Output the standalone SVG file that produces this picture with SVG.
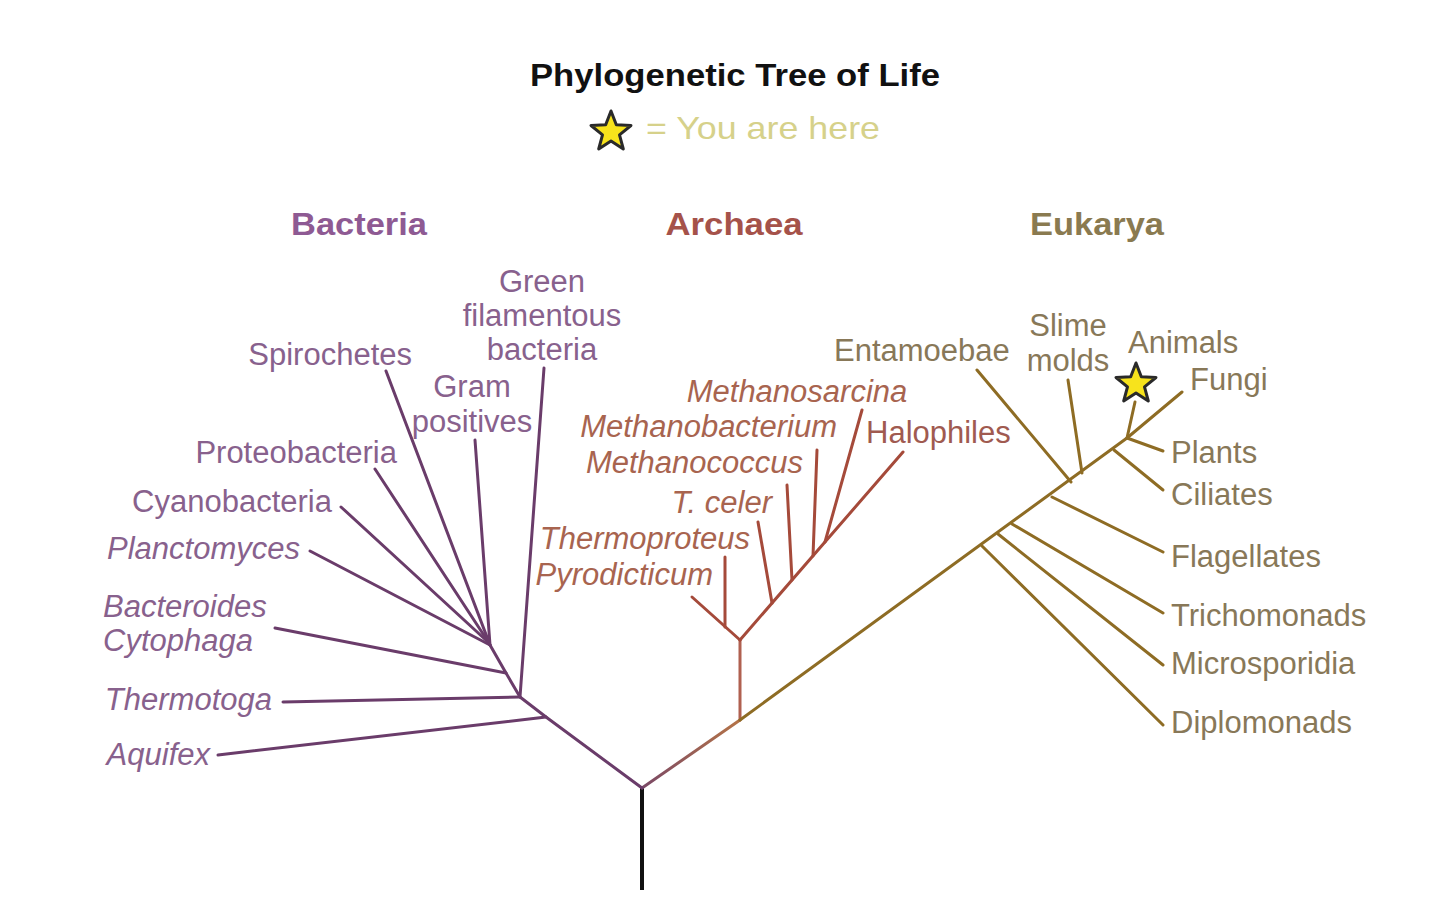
<svg xmlns="http://www.w3.org/2000/svg" width="1440" height="904" viewBox="0 0 1440 904">
  <defs>
    <path id="star" d="M0,-21 L5.3,-7.2 L20,-6.5 L8.5,2.8 L12.3,17 L0,9 L-12.3,17 L-8.5,2.8 L-20,-6.5 L-5.3,-7.2 Z"/>
    <linearGradient id="rootRight" gradientUnits="userSpaceOnUse" x1="642" y1="788" x2="740" y2="720">
      <stop offset="0" stop-color="#7a4866"/>
      <stop offset="1" stop-color="#b57447"/>
    </linearGradient>
    <style>
      text { font-family: "Liberation Sans", Arial, sans-serif; }
      .title { font-size: 32px; font-weight: bold; fill: #111; }
      .legend { font-size: 32px; fill: #d6d18a; }
      .head { font-size: 32px; font-weight: bold; }
      .lab { font-size: 31px; }
      .it { font-style: italic; }
      .bac { fill: #88618d; }
      .arc { fill: #a8644f; }
      .euk { fill: #887858; }
      .star { fill: #f7e31c; stroke: #2a2a2a; stroke-width: 3; stroke-linejoin: round; }
      .lb { stroke: #6a3c6a; stroke-width: 3; fill: none; stroke-linecap: round; stroke-linejoin: round; }
      .la { stroke: #a54a3a; stroke-width: 3; fill: none; stroke-linecap: round; stroke-linejoin: round; }
      .le { stroke: #8e6c24; stroke-width: 3; fill: none; stroke-linecap: round; stroke-linejoin: round; }
    </style>
  </defs>
  <rect width="1440" height="904" fill="#ffffff"/>

  <g id="title">
    <text class="title" x="735" y="86" text-anchor="middle" textLength="410" lengthAdjust="spacingAndGlyphs">Phylogenetic Tree of Life</text>
  </g>
  <g id="legend">
    <use href="#star" class="star" transform="translate(611,132)"/>
    <text class="legend" x="646" y="139" textLength="234" lengthAdjust="spacingAndGlyphs">= You are here</text>
  </g>

  <g id="headings">
    <text class="head bac" x="359" y="235" text-anchor="middle" textLength="136" lengthAdjust="spacingAndGlyphs" style="fill:#8e5a93">Bacteria</text>
    <text class="head arc" x="734" y="235" text-anchor="middle" textLength="137" lengthAdjust="spacingAndGlyphs" style="fill:#a5524a">Archaea</text>
    <text class="head euk" x="1097" y="235" text-anchor="middle" textLength="134" lengthAdjust="spacingAndGlyphs" style="fill:#8a7a50">Eukarya</text>
  </g>

  <g id="connectors">
    <line x1="642" y1="788" x2="642" y2="890" stroke="#111" stroke-width="4"/>
    <line x1="642" y1="788" x2="740" y2="720" stroke="url(#rootRight)" stroke-width="3" stroke-linecap="round"/>
    <!-- Bacteria -->
    <polyline class="lb" points="642,788 546,717 520,697 506,673 490,645"/>
    <line class="lb" x1="218" y1="755" x2="546" y2="717"/>
    <line class="lb" x1="283" y1="702" x2="520" y2="697"/>
    <line class="lb" x1="275" y1="628" x2="506" y2="673"/>
    <line class="lb" x1="310" y1="551" x2="490" y2="645"/>
    <line class="lb" x1="341" y1="507" x2="488" y2="642"/>
    <line class="lb" x1="375" y1="469" x2="489" y2="643"/>
    <line class="lb" x1="386" y1="371" x2="490" y2="645"/>
    <line class="lb" x1="475" y1="440" x2="490" y2="645"/>
    <line class="lb" x1="544" y1="368" x2="520" y2="697"/>
    <!-- Archaea -->
    <line class="la" x1="740" y1="720" x2="740" y2="640" style="stroke:#b06050"/>
    <line class="la" x1="740" y1="640" x2="692" y2="597"/>
    <line class="la" x1="725" y1="627" x2="725" y2="557"/>
    <line class="la" x1="740" y1="640" x2="903" y2="452"/>
    <line class="la" x1="772" y1="603" x2="758" y2="522"/>
    <line class="la" x1="792" y1="580" x2="787" y2="485"/>
    <line class="la" x1="813" y1="556" x2="817" y2="450"/>
    <line class="la" x1="825" y1="542" x2="862" y2="410"/>
    <!-- Eukarya -->
    <polyline class="le" points="740,720 1127,438 1182,392"/>
    <line class="le" x1="982" y1="546" x2="1163" y2="725"/>
    <line class="le" x1="998" y1="534" x2="1163" y2="665"/>
    <line class="le" x1="1012" y1="524" x2="1163" y2="613"/>
    <line class="le" x1="1052" y1="497" x2="1163" y2="552"/>
    <line class="le" x1="977" y1="370" x2="1071" y2="482"/>
    <line class="le" x1="1068" y1="380" x2="1082" y2="473"/>
    <line class="le" x1="1114" y1="450" x2="1163" y2="490"/>
    <line class="le" x1="1127" y1="438" x2="1163" y2="451"/>
    <line class="le" x1="1127" y1="438" x2="1135" y2="402"/>
  </g>

  <g id="bacteria">
    <text class="lab bac" x="542" y="292" text-anchor="middle">Green</text>
    <text class="lab bac" x="542" y="326" text-anchor="middle">filamentous</text>
    <text class="lab bac" x="542" y="360" text-anchor="middle">bacteria</text>
    <text class="lab bac" x="412" y="365" text-anchor="end">Spirochetes</text>
    <text class="lab bac" x="472" y="397" text-anchor="middle">Gram</text>
    <text class="lab bac" x="472" y="432" text-anchor="middle">positives</text>
    <text class="lab bac" x="397" y="463" text-anchor="end">Proteobacteria</text>
    <text class="lab bac" x="332" y="512" text-anchor="end">Cyanobacteria</text>
    <text class="lab bac it" x="300" y="559" text-anchor="end">Planctomyces</text>
    <text class="lab bac it" x="103" y="617">Bacteroides</text>
    <text class="lab bac it" x="103" y="651">Cytophaga</text>
    <text class="lab bac it" x="272" y="710" text-anchor="end">Thermotoga</text>
    <text class="lab bac it" x="210" y="765" text-anchor="end">Aquifex</text>
  </g>

  <g id="archaea">
    <text class="lab arc it" x="797" y="402" text-anchor="middle">Methanosarcina</text>
    <text class="lab arc it" x="837" y="437" text-anchor="end">Methanobacterium</text>
    <text class="lab arc it" x="803" y="473" text-anchor="end">Methanococcus</text>
    <text class="lab arc it" x="772" y="513" text-anchor="end">T. celer</text>
    <text class="lab arc it" x="750" y="549" text-anchor="end">Thermoproteus</text>
    <text class="lab arc it" x="713" y="585" text-anchor="end">Pyrodicticum</text>
    <text class="lab arc" x="866" y="443" style="fill:#a05a50">Halophiles</text>
  </g>

  <g id="eukarya">
    <text class="lab euk" x="834" y="361">Entamoebae</text>
    <text class="lab euk" x="1068" y="336" text-anchor="middle">Slime</text>
    <text class="lab euk" x="1068" y="371" text-anchor="middle">molds</text>
    <text class="lab euk" x="1128" y="353">Animals</text>
    <text class="lab euk" x="1190" y="390">Fungi</text>
    <text class="lab euk" x="1171" y="463">Plants</text>
    <text class="lab euk" x="1171" y="505">Ciliates</text>
    <text class="lab euk" x="1171" y="567">Flagellates</text>
    <text class="lab euk" x="1171" y="626">Trichomonads</text>
    <text class="lab euk" x="1171" y="674">Microsporidia</text>
    <text class="lab euk" x="1171" y="733">Diplomonads</text>
    <use href="#star" class="star" transform="translate(1136,384)"/>
  </g>
</svg>
